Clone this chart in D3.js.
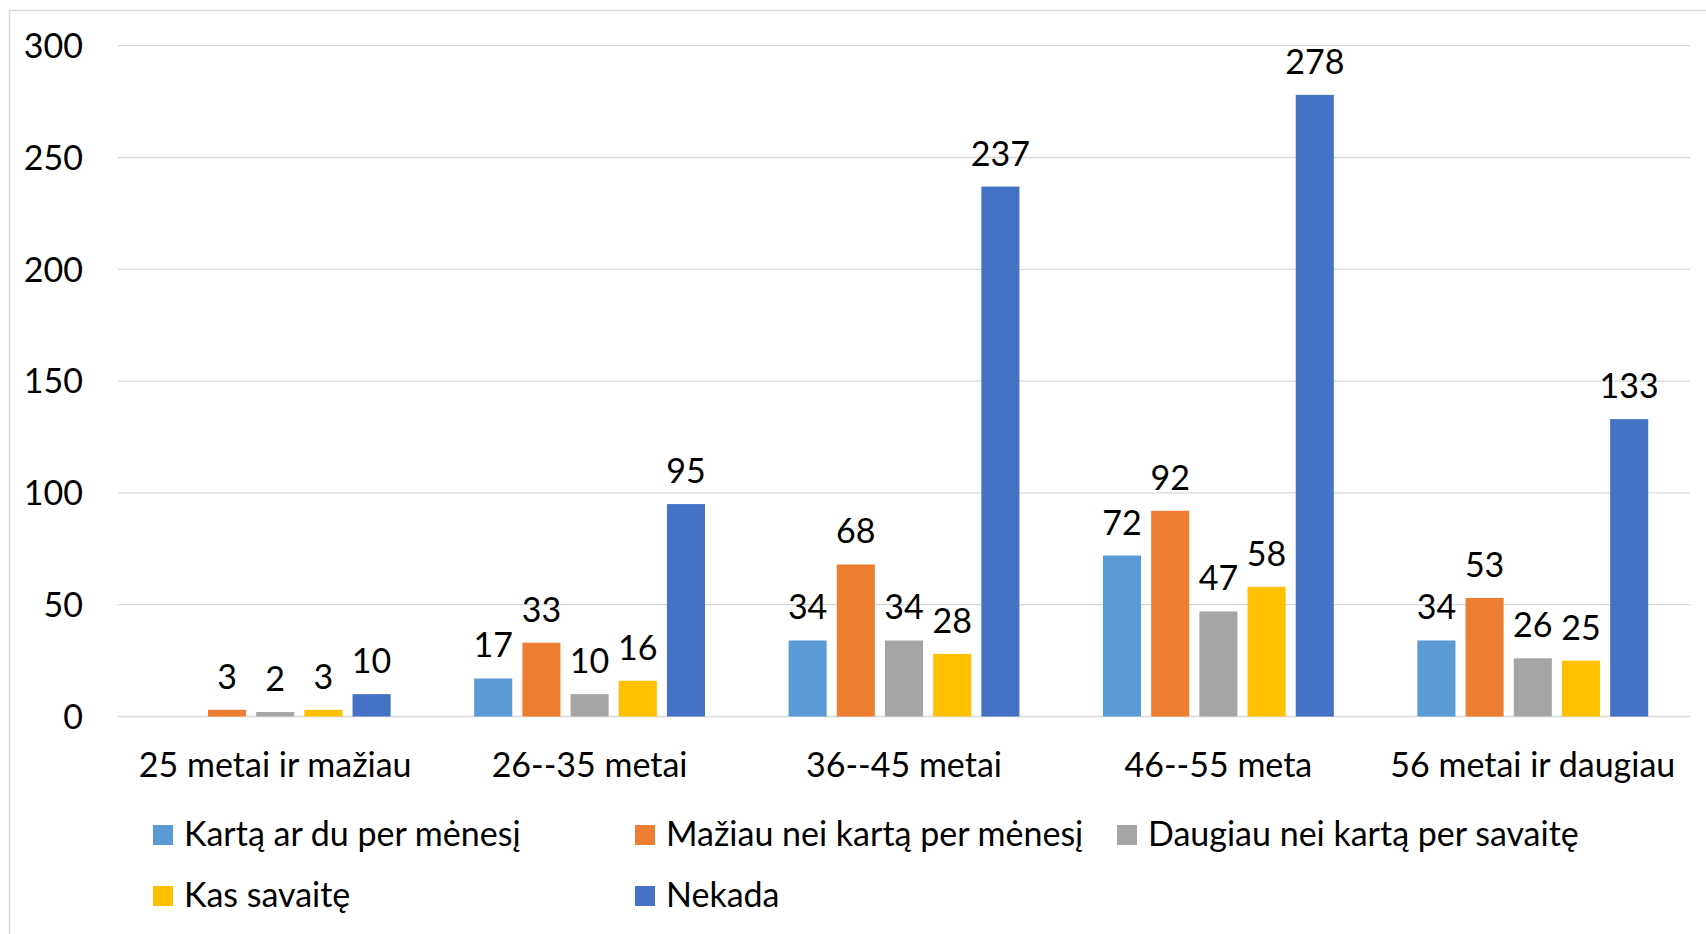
<!DOCTYPE html>
<html>
<head>
<meta charset="utf-8">
<script src="https://cdn.jsdelivr.net/npm/d3@7"></script>
<style>
  body { margin: 0; background: #fff; }
  text { font-family: Lato, "Open Sans", sans-serif; fill: #000; }
</style>
</head>
<body>
<svg width="1706" height="934"></svg>
<script>
var categories = ["25 metai ir mažiau", "26--35 metai", "36--45 metai", "46--55 meta", "56 metai ir daugiau"];
var seriesNames = ["Kartą ar du per mėnesį", "Mažiau nei kartą per mėnesį", "Daugiau nei kartą per savaitę", "Kas savaitę", "Nekada"];
var kartaArDu = [null, 17, 34, 72, 34];
var maziauNei = [3, 33, 68, 92, 53];
var daugiauNei = [2, 10, 34, 47, 26];
var kasSavaite = [3, 16, 28, 58, 25];
var nekada = [10, 95, 237, 278, 133];
var yTicks = [0, 50, 100, 150, 200, 250, 300];

var values = [kartaArDu, maziauNei, daugiauNei, kasSavaite, nekada];
var colors = ["#5B9BD5", "#ED7D31", "#A5A5A5", "#FFC000", "#4472C4"];

var svg = d3.select("svg"),
    width = +svg.attr("width"),
    height = +svg.attr("height");

var fontSize = "34px";

// chart frame
svg.append("rect")
    .attr("x", 9.5).attr("y", 10.5)
    .attr("width", width).attr("height", height)
    .attr("fill", "none")
    .attr("stroke", "#D9D9D9")
    .attr("stroke-width", 1.5);

var plotLeft = 118, plotRight = 1690, plotTop = 45.7, plotBottom = 716.5;

var y = d3.scaleLinear().domain([0, 300]).range([plotBottom, plotTop]);
var x0 = d3.scaleBand().domain(categories).range([plotLeft, plotRight]).padding(0);
var x1 = d3.scaleBand().domain(d3.range(5))
    .range([0, x0.bandwidth()])
    .paddingInner(0.21)
    .paddingOuter(0.867);

// gridlines
svg.append("g")
    .selectAll("line")
    .data(yTicks)
    .enter().append("line")
    .attr("x1", plotLeft).attr("x2", plotRight)
    .attr("y1", function(d) { return y(d); })
    .attr("y2", function(d) { return y(d); })
    .attr("stroke", "#D9D9D9")
    .attr("stroke-width", function(d) { return d === 0 ? 1.6 : 1.3; });

// y tick labels
svg.append("g")
    .selectAll("text")
    .data(yTicks)
    .enter().append("text")
    .attr("x", 83)
    .attr("y", function(d) { return y(d); })
    .attr("dy", "0.36em")
    .attr("text-anchor", "end")
    .style("font-size", fontSize)
    .text(function(d) { return d; });

// bars
var groups = svg.append("g")
    .selectAll("g")
    .data(values)
    .enter().append("g")
    .attr("fill", function(d, i) { return colors[i]; });

groups.each(function(vals, si) {
  var g = d3.select(this);
  var pts = vals.map(function(v, ci) { return {v: v, c: categories[ci]}; })
      .filter(function(d) { return d.v != null; });

  g.selectAll("rect")
      .data(pts)
      .enter().append("rect")
      .attr("x", function(d) { return x0(d.c) + x1(si); })
      .attr("width", x1.bandwidth())
      .attr("y", function(d) { return y(d.v); })
      .attr("height", function(d) { return y(0) - y(d.v); });

  g.selectAll("text")
      .data(pts)
      .enter().append("text")
      .attr("x", function(d) { return x0(d.c) + x1(si) + x1.bandwidth() / 2; })
      .attr("y", function(d) { return y(d.v) - 21; })
      .attr("text-anchor", "middle")
      .style("font-size", fontSize)
      .style("fill", "#000")
      .text(function(d) { return d.v; });
});

// category labels
svg.append("g")
    .selectAll("text")
    .data(categories)
    .enter().append("text")
    .attr("x", function(d) { return x0(d) + x0.bandwidth() / 2; })
    .attr("y", 777)
    .attr("text-anchor", "middle")
    .style("font-size", fontSize)
    .text(function(d) { return d; });

// legend
var legend = svg.append("g")
    .selectAll("g")
    .data(seriesNames)
    .enter().append("g")
    .attr("transform", function(d, i) {
      var col = i % 3, row = Math.floor(i / 3);
      return "translate(" + (153 + col * 482) + "," + (825 + row * 61) + ")";
    });

legend.append("rect")
    .attr("width", 20).attr("height", 20)
    .attr("fill", function(d, i) { return colors[i]; });

legend.append("text")
    .attr("x", 31)
    .attr("y", 21)
    .style("font-size", fontSize)
    .text(function(d) { return d; });
</script>
</body>
</html>
